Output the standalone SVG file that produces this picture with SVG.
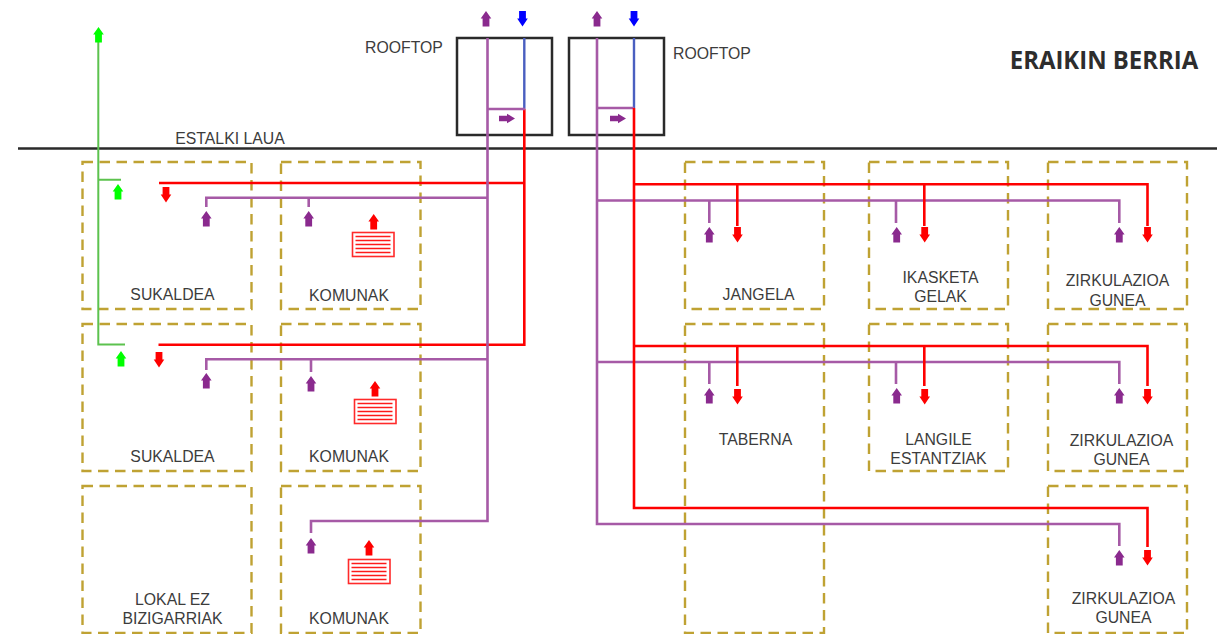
<svg xmlns="http://www.w3.org/2000/svg" width="1217" height="634" viewBox="0 0 1217 634">
<style>
text{font-family:"Liberation Sans",Arial,sans-serif;font-size:15.8px;fill:#3c3c3c;text-anchor:middle}
.z{fill:none;stroke:#bfa233;stroke-width:2.4;stroke-dasharray:10.500 6.500}
.p,.r,.g,.b,.k{fill:none}
.p{stroke:#a65aa6;stroke-width:2.6}
.r{stroke:#fe0000;stroke-width:2.600}
.g{stroke:#5cc24e;stroke-width:2}
.b{stroke:#4a5fc0;stroke-width:2.400}
.k{stroke:#2a2a2a;stroke-width:2.500}
.fr{fill:#fff;stroke:#ff2a2a;stroke-width:1.600}
.ln{fill:none;stroke:#fe1a1a;stroke-width:1.300}
</style>
<defs>
<path id="a" d="M0 0L5.300 7.500H3.400V15.500H-3.400V7.500H-5.300Z"/>
<path id="d" d="M0 15.500L5.300 7.500H3.400V0H-3.400V7.500H-5.300Z"/>
<path id="e" d="M16 0L8 4.800V2.700H0V-2.700H8V-4.800Z"/>
<g id="rad"><rect class="fr" x="0.500" y="0.500" width="41.500" height="24"/><path class="ln" d="M3.500 4.500H38.500M3.500 8.500H38.500M3.500 12.500H38.500M3.500 16.500H38.500M3.500 20.500H38.500"/></g>
</defs>
<g id="zones">
<g id="sukaldea-1"><rect class="z" x="82.500" y="162" width="169" height="147"/><text x="172.500" y="300">SUKALDEA</text></g>
<g id="komunak-1"><rect class="z" x="281" y="162" width="139.500" height="147"/><text x="349" y="300.500">KOMUNAK</text></g>
<g id="jangela"><rect class="z" x="685" y="162" width="139" height="147"/><text x="758.500" y="300">JANGELA</text></g>
<g id="ikasketa"><rect class="z" x="869" y="162" width="139" height="147"/><text x="940.500" y="283">IKASKETA</text><text x="940.500" y="302">GELAK</text></g>
<g id="zirkulazioa-1"><rect class="z" x="1048" y="162" width="139" height="147"/><text x="1117.500" y="286">ZIRKULAZIOA</text><text x="1117.500" y="305.500">GUNEA</text></g>
<g id="sukaldea-2"><rect class="z" x="82.500" y="324" width="169" height="147"/><text x="172.500" y="462">SUKALDEA</text></g>
<g id="komunak-2"><rect class="z" x="281" y="324" width="139.500" height="147"/><text x="349" y="462">KOMUNAK</text></g>
<g id="taberna"><rect class="z" x="685" y="324" width="139" height="309"/><text x="755.500" y="445">TABERNA</text></g>
<g id="langile"><rect class="z" x="869" y="324" width="139" height="147"/><text x="938.500" y="445">LANGILE</text><text x="938.500" y="464">ESTANTZIAK</text></g>
<g id="zirkulazioa-2"><rect class="z" x="1048" y="324" width="139" height="147"/><text x="1121.500" y="446">ZIRKULAZIOA</text><text x="1121.500" y="465">GUNEA</text></g>
<g id="lokal"><rect class="z" x="82.500" y="486" width="169" height="147"/><text x="172.500" y="605">LOKAL EZ</text><text x="172.500" y="624">BIZIGARRIAK</text></g>
<g id="komunak-3"><rect class="z" x="281" y="486" width="139.500" height="147"/><text x="349" y="624">KOMUNAK</text></g>
<g id="zirkulazioa-3"><rect class="z" x="1048" y="486" width="139" height="147"/><text x="1123.500" y="604">ZIRKULAZIOA</text><text x="1123.500" y="623">GUNEA</text></g>
</g>
<g id="rooftop-1"><rect class="k" x="457" y="38" width="95" height="97"/><text x="404" y="53">ROOFTOP</text></g>
<g id="rooftop-2"><rect class="k" x="569" y="38" width="95" height="97"/><text x="712" y="59">ROOFTOP</text></g>
<g id="roof"><path class="k" d="M18 148.500H1217"/><text x="230" y="144">ESTALKI LAUA</text></g>
<g id="title"><text x="1104" y="68.500" style="font-family:'Open Sans',sans-serif;font-weight:700;font-size:24.300px;fill:#2d2d2d" textLength="188.500" lengthAdjust="spacingAndGlyphs">ERAIKIN BERRIA</text></g>
<g id="connectors">
<path class="g" d="M98.300 40V344.500H125M98.300 179.800H121"/>
<path class="b" d="M524.300 38V109M634 38V108"/>
<path class="r" d="M159 183H524.300V109M158.500 344.700H524.300V183"/>
<path class="p" d="M487.500 38V521H311V533M487.500 109H525M206.300 207V197.700H487.500M308.700 207V197.700M206.300 370V359.300H487.500M311 372V359.300"/>
<path class="p" d="M597 38V524H1119.300V546M597 108H634M597 200.500H1119.300V223M709.300 223V200.500M896 223V200.500M597 362H1119.300V384M709.300 384V362M896 384V362"/>
<path class="r" d="M634 108V508H1147.500V547M634 184.300H1147.500V226M737.300 184.300V226M924.300 184.300V226M634 346H1147.500V386M737.300 346V386M924.300 346V386"/>
</g>
<g id="radiators">
<use href="#rad" x="352" y="232"/>
<use href="#rad" x="354" y="399"/>
<use href="#rad" x="348" y="559"/>
</g>
<g id="arrows">
<g fill="#00ff00"><use href="#a" x="98.500" y="27"/><use href="#a" x="118" y="184"/><use href="#a" x="121" y="351"/></g>
<g fill="#fe0000">
<use href="#d" x="166" y="187"/><use href="#d" x="159" y="352"/>
<use href="#a" x="373.700" y="214"/><use href="#a" x="375" y="381"/><use href="#a" x="369" y="540"/>
<use href="#d" x="737.500" y="227"/><use href="#d" x="924.700" y="227"/><use href="#d" x="1147.500" y="227"/>
<use href="#d" x="737.500" y="389"/><use href="#d" x="924.700" y="389"/><use href="#d" x="1147.500" y="389"/>
<use href="#d" x="1147.500" y="550"/>
</g>
<g fill="#8a2a8e">
<use href="#a" x="486" y="11"/><use href="#a" x="597" y="11"/>
<use href="#e" x="499" y="118.500"/><use href="#e" x="610" y="118.500"/>
<use href="#a" x="206.300" y="211"/><use href="#a" x="308.700" y="211"/>
<use href="#a" x="206.300" y="373"/><use href="#a" x="311" y="376"/><use href="#a" x="311" y="538"/>
<use href="#a" x="709.300" y="227"/><use href="#a" x="896.700" y="227"/><use href="#a" x="1119.300" y="227"/>
<use href="#a" x="709.300" y="388"/><use href="#a" x="896.700" y="388"/><use href="#a" x="1119.300" y="388"/>
<use href="#a" x="1119.300" y="550"/>
</g>
<g fill="#0000ff"><use href="#d" x="522.500" y="11"/><use href="#d" x="634" y="11"/></g>
</g>
</svg>
